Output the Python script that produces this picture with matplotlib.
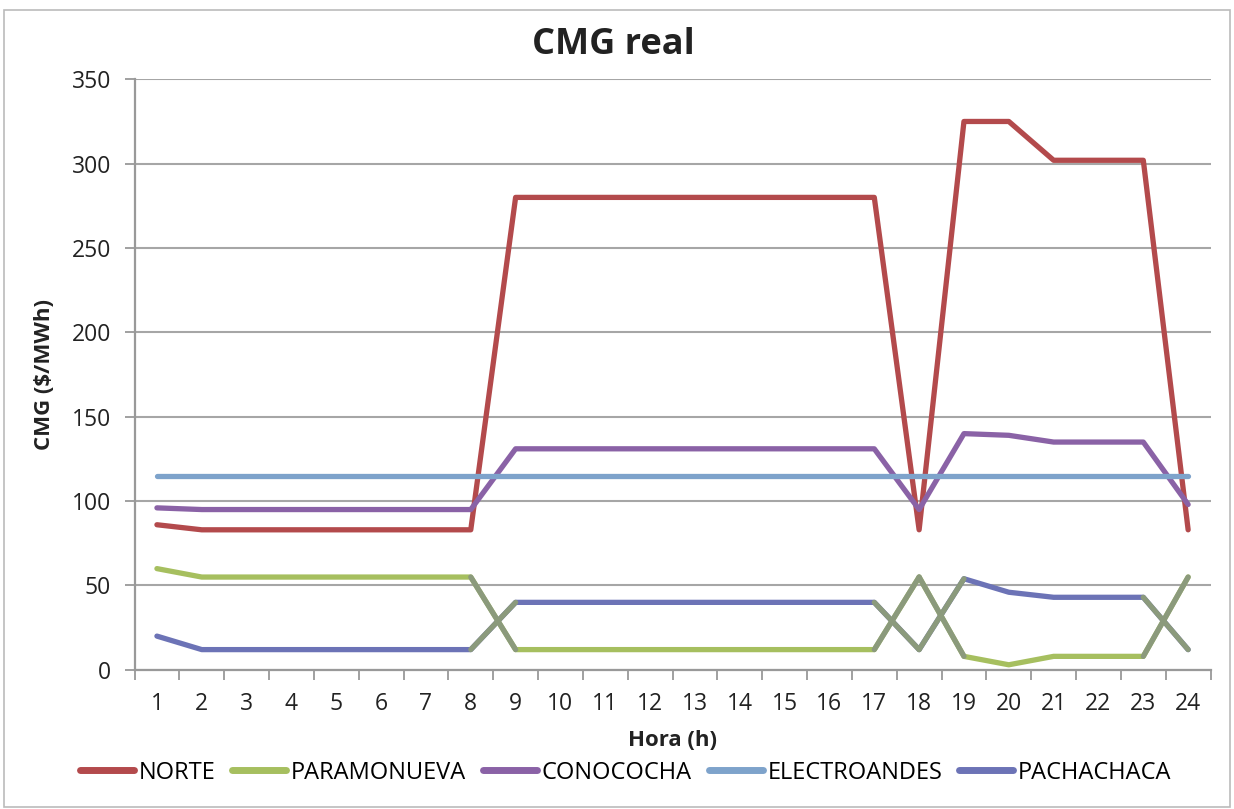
import numpy as np
import matplotlib
matplotlib.use("Agg")
import matplotlib.pyplot as plt
from matplotlib.patches import Rectangle

plt.rcParams['font.family'] = ['Open Sans', 'DejaVu Sans']

horas = list(range(1, 25))
norte = [86, 83, 83, 83, 83, 83, 83, 83, 280, 280, 280, 280, 280, 280, 280, 280, 280,
         83, 325, 325, 302, 302, 302, 83]
paramonueva = [60, 55, 55, 55, 55, 55, 55, 55, 12, 12, 12, 12, 12, 12, 12, 12, 12,
               55, 8, 3, 8, 8, 8, 55]
conococha = [96, 95, 95, 95, 95, 95, 95, 95, 131, 131, 131, 131, 131, 131, 131, 131, 131,
             95, 140, 139, 135, 135, 135, 98]
electroandes = [115] * 24
pachachaca = [20, 12, 12, 12, 12, 12, 12, 12, 40, 40, 40, 40, 40, 40, 40, 40, 40,
              12, 54, 46, 43, 43, 43, 12]

series = [
    ("NORTE", norte, "#b34a4c"),
    ("PARAMONUEVA", paramonueva, "#a6bf5f"),
    ("CONOCOCHA", conococha, "#8a62a6"),
    ("ELECTROANDES", electroandes, "#7ea3cb"),
    ("PACHACHACA", pachachaca, "#6c73b6"),
]

fig = plt.figure(figsize=(12.34, 8.09), dpi=100)
ax = fig.add_axes([0.109, 0.172, 0.872, 0.730])

lw = 3.8
for name, vals, col in series:
    ax.plot(horas, vals, color=col, lw=lw, label=name, solid_capstyle='round', zorder=3)

# where paramonueva and pachachaca swap, the scan shows grey-green segments
x = np.array(horas)
a = np.array(paramonueva)
b = np.array(pachachaca)
for i in range(len(x) - 1):
    if np.sign(a[i] - b[i]) != np.sign(a[i + 1] - b[i + 1]):
        ax.plot(x[i:i + 2], a[i:i + 2], color="#8b9a7c", lw=lw, zorder=4, solid_capstyle='round')
        ax.plot(x[i:i + 2], b[i:i + 2], color="#8b9a7c", lw=lw, zorder=4, solid_capstyle='round')

ax.set_xlim(0.5, 24.5)
ax.set_ylim(0, 350)
ax.set_yticks(range(0, 351, 50))
ax.set_xticks(horas)
ax.set_xticks(np.arange(0.5, 25, 1), minor=True)
ax.tick_params(axis='x', which='major', length=0, labelsize=16.5, pad=16, colors='#222222')
ax.tick_params(axis='x', which='minor', length=7, width=1.3, color='#999999', direction='out')
ax.tick_params(axis='y', length=7, width=1.3, labelsize=16.5, pad=10, colors='#222222')
ax.tick_params(axis='y', color='#999999')

ax.grid(axis='y', color='#a6a6a6', lw=1.5, zorder=0)
for s in ['top', 'right']:
    ax.spines[s].set_visible(False)
for s in ['left', 'bottom']:
    ax.spines[s].set_color('#999999')
    ax.spines[s].set_linewidth(1.6)

fig.text(0.497, 0.944, "CMG real", fontsize=26, fontweight='bold', color='#222222',
         ha='center', va='center')
ax.set_ylabel("CMG ($/MWh)", fontsize=16, fontweight='bold', labelpad=12, color='#222222')
ax.set_xlabel("Hora (h)", fontsize=16, fontweight='bold', labelpad=10, color='#222222')

leg = fig.legend(loc='center', bbox_to_anchor=(0.507, 0.045), ncol=5, frameon=False,
                 fontsize=17, handlelength=2.3, handletextpad=0.2, columnspacing=0.7)
for h in leg.get_lines():
    h.set_linewidth(5)

fig.patches.append(Rectangle((0.003, 0.003), 0.994, 0.985, transform=fig.transFigure,
                             fill=False, edgecolor='#bbbbbb', lw=1.2))

fig.savefig("out.png", dpi=100)
